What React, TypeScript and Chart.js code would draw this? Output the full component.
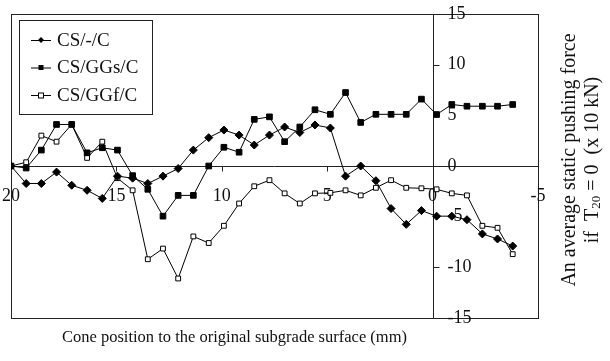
import React, { useEffect, useRef } from 'react';
import { Chart, registerables } from 'chart.js';

Chart.register(...registerables);

// Cone position (mm) of each reading
const positions = [
  20, 19.28, 18.56, 17.84, 17.12, 16.39, 15.67, 14.95, 14.23, 13.51,
  12.79, 12.07, 11.35, 10.62, 9.9, 9.18, 8.46, 7.74, 7.02, 6.3,
  5.58, 4.85, 4.13, 3.41, 2.69, 1.97, 1.25, 0.53, -0.19, -0.91,
  -1.63, -2.36, -3.08, -3.8,
];

const csPlain = [
  0, -1.73, -1.73, -0.6, -1.9, -2.4, -3.2, -1.0, -1.2, -1.73,
  -1.0, -0.25, 1.57, 2.8, 3.55, 3.05, 2.07, 3.05, 3.85, 3.3,
  4.05, 3.75, -1.0, 0, -1.45, -4.2, -5.76, -4.4, -4.95, -4.95,
  -5.3, -6.7, -7.2, -7.9,
];

const csGGs = [
  0, -0.2, 1.57, 4.1, 4.1, 1.3, 1.8, 1.57, -0.95, -2.3,
  -4.95, -2.9, -2.9, 0, 1.85, 1.36, 4.6, 4.85, 2.4, 3.85,
  5.55, 5.1, 7.25, 4.3, 5.1, 5.1, 5.1, 6.6, 5.08, 6.07,
  5.9, 5.9, 5.9, 6.07,
];

const csGGf = [
  0, 0.37, 3.0, 2.4, 4.1, 0.8, 2.4, -1.2, -2.4, -9.2,
  -8.15, -11.1, -6.95, -7.6, -5.9, -3.7, -2.0, -1.4, -2.7, -3.7,
  -2.7, -2.65, -2.4, -2.9, -2.15, -1.4, -2.15, -2.2, -2.3, -2.7,
  -2.9, -5.9, -6.1, -8.7,
];

const seriesNames = ['CS/-/C', 'CS/GGs/C', 'CS/GGf/C'];
const xTicks = [20, 15, 10, 5, 0, -5];
const yTicks = [15, 10, 5, 0, -5, -10, -15];

const xTitle = 'Cone position to the original subgrade surface (mm)';
const yTitle1 = 'An average static pushing force';
const yTitle2a = 'if  T';
const yTitle2sub = '20';
const yTitle2b = ' = 0  (x 10 kN)';

const SERIF = "'Liberation Serif', 'Times New Roman', serif";

const axesPlugin = {
  id: 'customAxes',
  beforeDatasetsDraw(chart: any) {
    const { ctx, chartArea: a, scales } = chart;
    const x = scales.x;
    const y = scales.y;
    const x0 = Math.round(x.getPixelForValue(0)) + 0.5;
    const y0 = Math.round(y.getPixelForValue(0)) + 0.5;
    ctx.save();
    ctx.strokeStyle = '#222';
    ctx.lineWidth = 1;
    ctx.strokeRect(Math.round(a.left) + 0.5, Math.round(a.top) + 0.5, Math.round(a.right - a.left), Math.round(a.bottom - a.top));
    ctx.beginPath();
    ctx.moveTo(a.left, y0);
    ctx.lineTo(a.right, y0);
    ctx.moveTo(x0, a.top);
    ctx.lineTo(x0, a.bottom);
    xTicks.forEach((v) => {
      const px = Math.round(x.getPixelForValue(v)) + 0.5;
      ctx.moveTo(px, y0);
      ctx.lineTo(px, y0 + 5);
    });
    yTicks.forEach((v) => {
      const py = Math.round(y.getPixelForValue(v)) + 0.5;
      ctx.moveTo(x0, py);
      ctx.lineTo(x0 + 6, py);
    });
    ctx.stroke();

    ctx.fillStyle = '#111';
    ctx.font = `18px ${SERIF}`;
    ctx.textAlign = 'center';
    ctx.textBaseline = 'middle';
    xTicks.forEach((v) => {
      ctx.fillText(String(v), x.getPixelForValue(v), y0 + 30);
    });
    ctx.textAlign = 'left';
    yTicks.forEach((v) => {
      ctx.fillText(String(v), x0 + 14, y.getPixelForValue(v));
    });

    // bottom title
    ctx.font = `16.5px ${SERIF}`;
    ctx.textAlign = 'center';
    ctx.fillText(xTitle, 234.5, 338);

    // right title (rotated)
    ctx.font = `20px ${SERIF}`;
    ctx.save();
    ctx.translate(570, 160);
    ctx.rotate(-Math.PI / 2);
    ctx.textAlign = 'center';
    ctx.fillText(yTitle1, 0, 0);
    ctx.restore();

    ctx.save();
    ctx.translate(593, 160);
    ctx.rotate(-Math.PI / 2);
    ctx.textAlign = 'left';
    ctx.font = `20px ${SERIF}`;
    const wa = ctx.measureText(yTitle2a).width;
    const wb = ctx.measureText(yTitle2b).width;
    ctx.font = `13px ${SERIF}`;
    const ws = ctx.measureText(yTitle2sub).width;
    const total = wa + ws + wb;
    let cx = -total / 2;
    ctx.font = `20px ${SERIF}`;
    ctx.fillText(yTitle2a, cx, 0);
    cx += wa;
    ctx.font = `13px ${SERIF}`;
    ctx.fillText(yTitle2sub, cx, 4);
    cx += ws;
    ctx.font = `20px ${SERIF}`;
    ctx.fillText(yTitle2b, cx, 0);
    ctx.restore();

    ctx.restore();
  },
  afterDatasetsDraw(chart: any) {
    const { ctx } = chart;
    ctx.save();
    ctx.fillStyle = '#fff';
    ctx.fillRect(19.5, 20.5, 133, 94);
    ctx.strokeStyle = '#222';
    ctx.lineWidth = 1;
    ctx.strokeRect(19.5, 20.5, 133, 94);
    const rows = [40, 67.5, 95];
    chart.data.datasets.forEach((ds: any, i: number) => {
      const ry = rows[i];
      ctx.beginPath();
      ctx.strokeStyle = '#000';
      ctx.moveTo(31, ry + 0.5);
      ctx.lineTo(51, ry + 0.5);
      ctx.stroke();
      ctx.beginPath();
      if (i === 0) {
        const r = 3;
        ctx.moveTo(41 - r, ry);
        ctx.lineTo(41, ry - r);
        ctx.lineTo(41 + r, ry);
        ctx.lineTo(41, ry + r);
        ctx.closePath();
        ctx.fillStyle = '#000';
        ctx.fill();
      } else if (i === 1) {
        ctx.fillStyle = '#000';
        ctx.fillRect(38.5, ry - 2.5, 5, 5);
      } else {
        ctx.fillStyle = '#fff';
        ctx.fillRect(38.5, ry - 2, 5, 5);
        ctx.strokeStyle = '#000';
        ctx.strokeRect(38.5, ry - 2, 5, 5);
      }
      ctx.fillStyle = '#111';
      ctx.font = `19px ${SERIF}`;
      ctx.textAlign = 'left';
      ctx.textBaseline = 'middle';
      ctx.fillText(ds.label, 57, ry + 1);
    });
    ctx.restore();
  },
};

export default function App() {
  const canvasRef = useRef<HTMLCanvasElement | null>(null);

  useEffect(() => {
    document.body.style.margin = '0';
    const canvas = canvasRef.current;
    if (!canvas) return;
    const mk = (vals: number[]) => positions.map((p, i) => ({ x: p, y: vals[i] }));
    const chart = new Chart(canvas, {
      type: 'line',
      data: {
        datasets: [
          {
            label: seriesNames[0],
            data: mk(csPlain),
            borderColor: '#000',
            borderWidth: 1,
            pointStyle: 'rectRot',
            pointRadius: 4,
            pointBackgroundColor: '#000',
            pointBorderColor: '#000',
            pointBorderWidth: 1,
            tension: 0,
          },
          {
            label: seriesNames[1],
            data: mk(csGGs),
            borderColor: '#000',
            borderWidth: 1,
            pointStyle: 'rect',
            pointRadius: 4,
            pointBackgroundColor: '#000',
            pointBorderColor: '#000',
            pointBorderWidth: 1,
            tension: 0,
          },
          {
            label: seriesNames[2],
            data: mk(csGGf),
            borderColor: '#000',
            borderWidth: 1,
            pointStyle: 'rect',
            pointRadius: 3.4,
            pointBackgroundColor: '#fff',
            pointBorderColor: '#000',
            pointBorderWidth: 1,
            tension: 0,
          },
        ],
      },
      options: {
        animation: false,
        responsive: false,
        devicePixelRatio: 1,
        layout: { padding: { left: 11, top: 14, right: 72, bottom: 43 } },
        scales: {
          x: { type: 'linear', min: -5, max: 20, reverse: true, display: false },
          y: { type: 'linear', min: -15, max: 15, display: false },
        },
        plugins: {
          legend: { display: false },
          tooltip: { enabled: false },
        },
      },
      plugins: [axesPlugin],
    } as any);
    return () => chart.destroy();
  }, []);

  return (
    <div style={{ position: 'absolute', left: 0, top: 0, width: 610, height: 361, background: '#fff' }}>
      <canvas ref={canvasRef} width={610} height={361} style={{ display: 'block' }} />
    </div>
  );
}
